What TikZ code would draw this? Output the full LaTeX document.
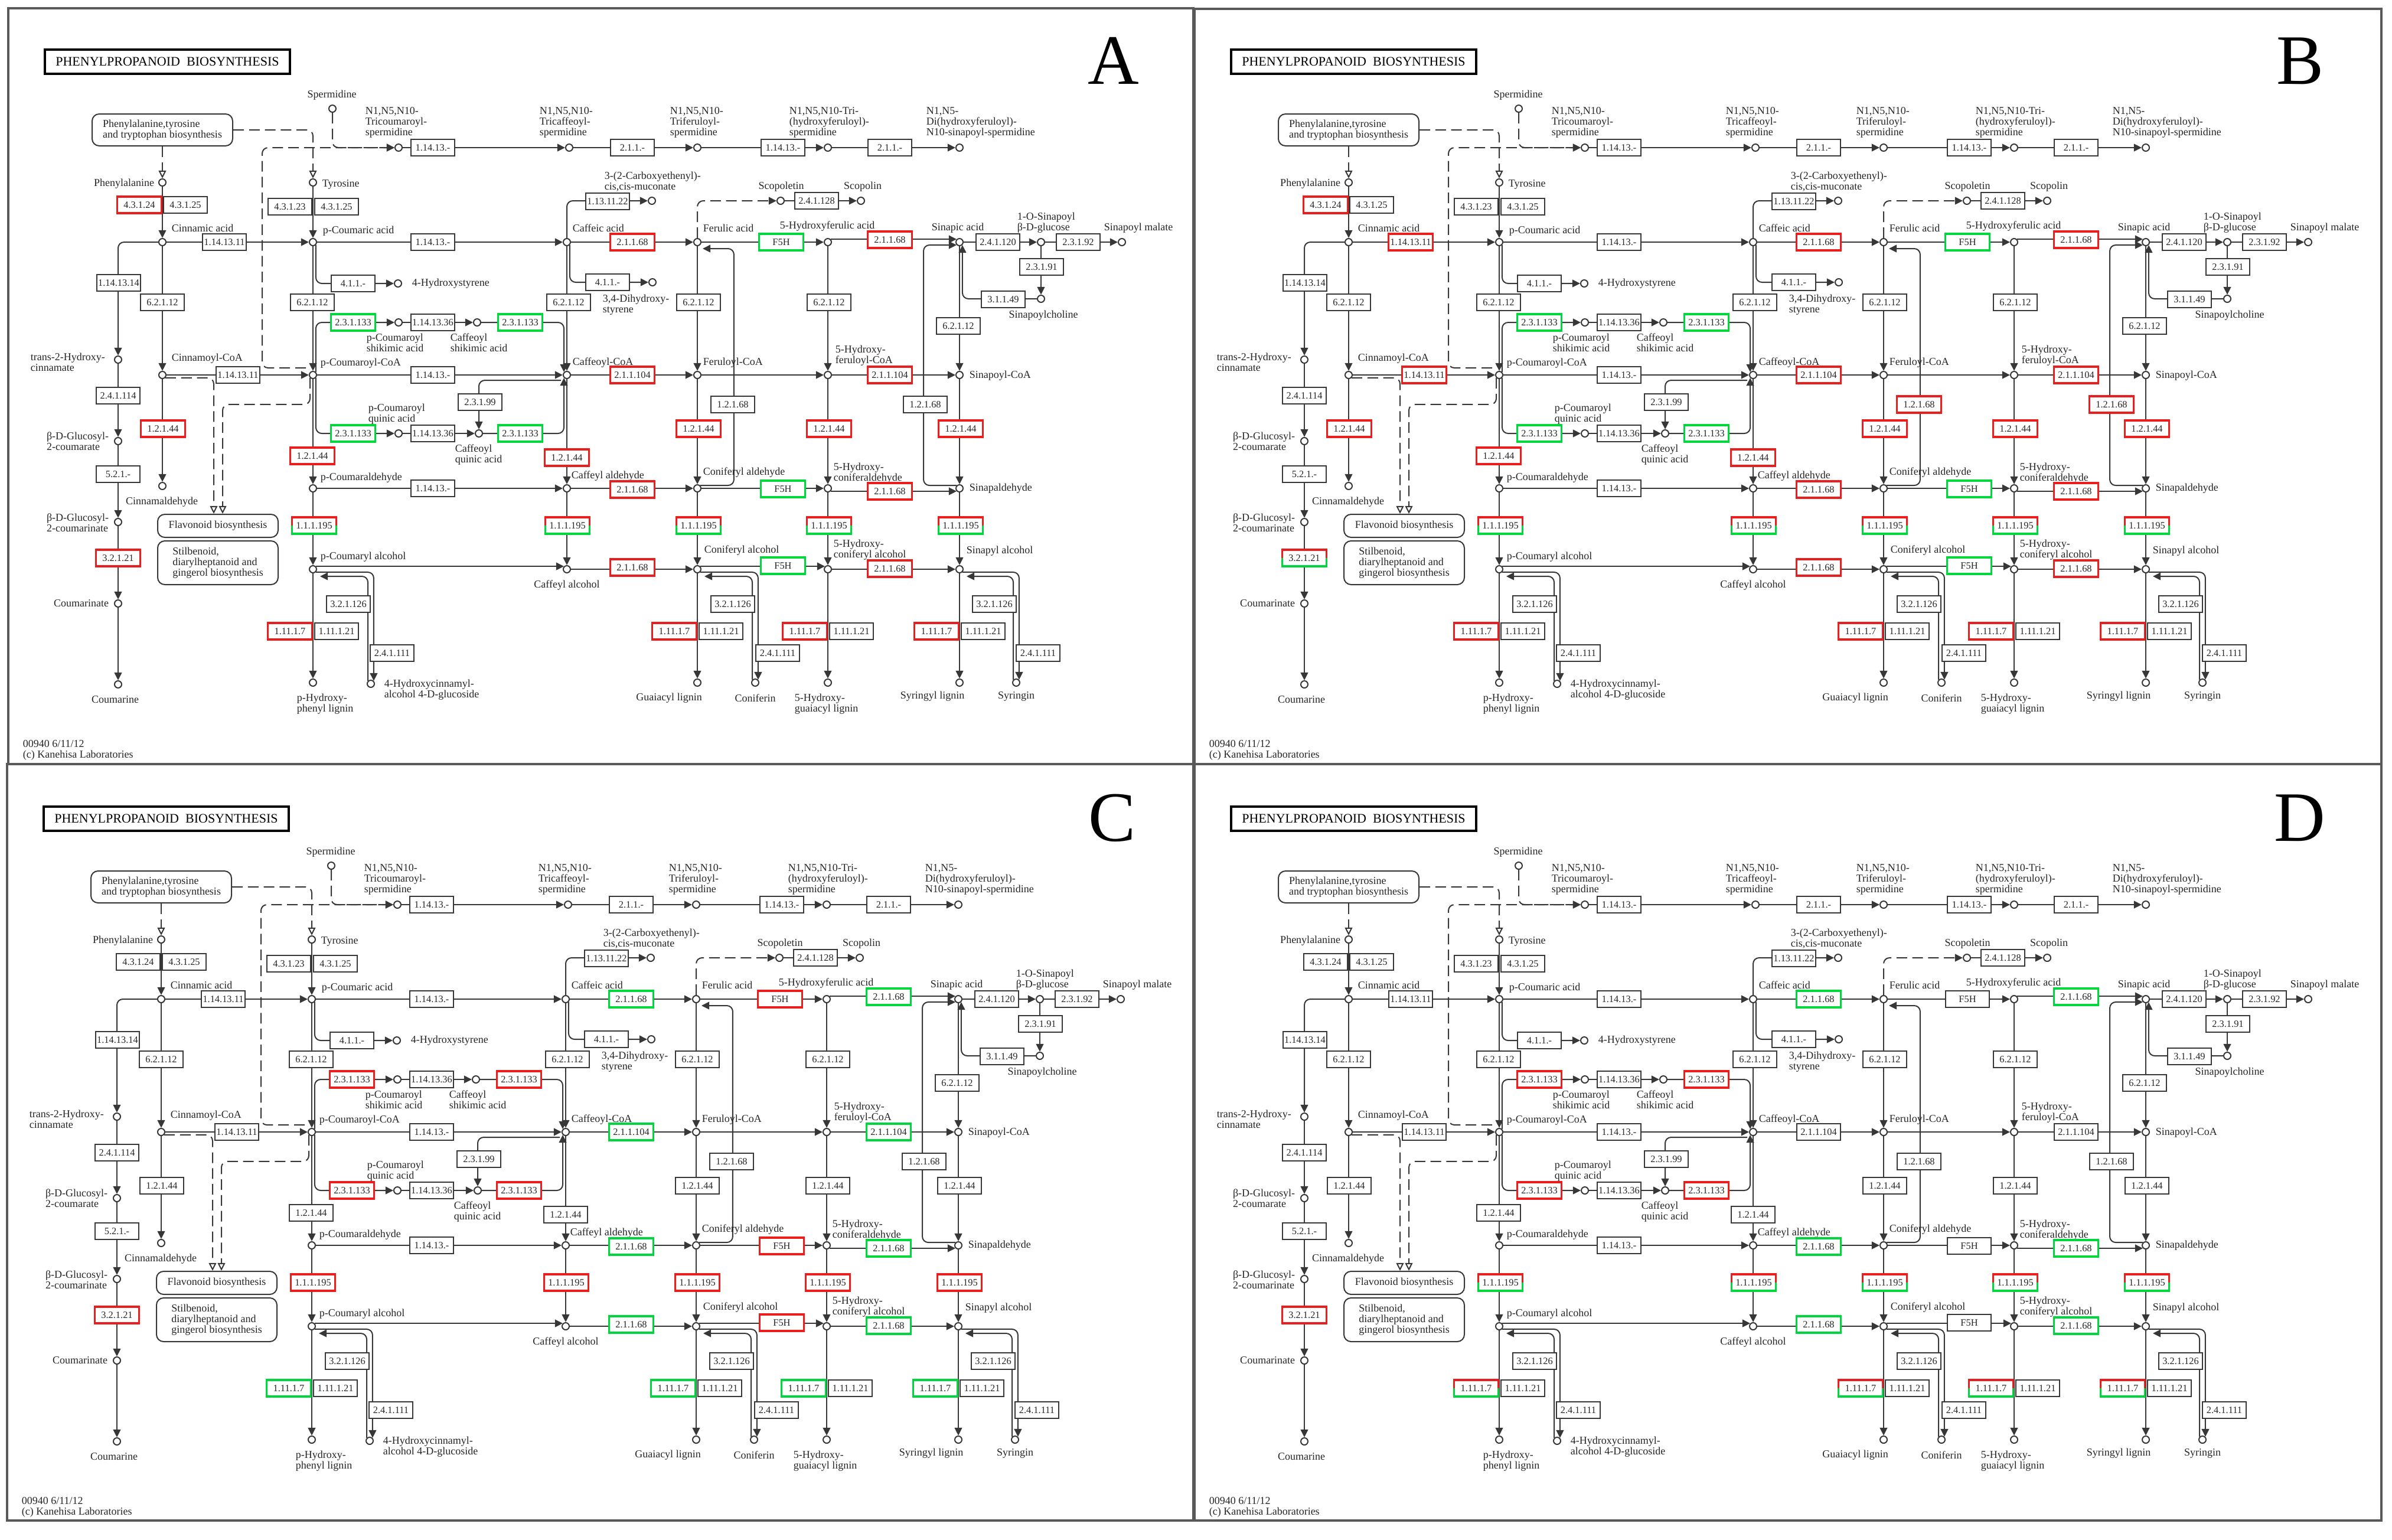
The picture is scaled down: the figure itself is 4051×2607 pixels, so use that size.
\documentclass[tikz,border=0pt]{standalone}
\usepackage{fontspec}
\setmainfont{Liberation Serif}
\usetikzlibrary{arrows.meta,calc}
\pgfdeclarelayer{back}\pgfdeclarelayer{edges}
\pgfsetlayers{back,edges,main}
\definecolor{kred}{RGB}{235,30,30}
\definecolor{kgreen}{RGB}{0,215,60}
\definecolor{kline}{RGB}{55,55,55}
\newcommand\labfont{\fontsize{4.5}{4.5}\selectfont}
\newcommand\enzfont{\fontsize{4.1}{4.1}\selectfont}
\tikzset{
  met/.style={circle,draw=kline,line width=0.5pt,fill=white,minimum size=3pt,inner sep=0pt},
  enz/.style={rectangle,minimum width=18.25pt,minimum height=6.6pt,inner sep=0pt,fill=white,font=\enzfont,text=black!85},
  lab/.style={inner sep=0pt,font=\labfont,align=left,text=black!85},
  ln/.style={draw=kline,line width=0.5pt},
  arr/.style={ln,-{Triangle[length=3.3pt,width=3.2pt]}},
  oarr/.style={ln,-{Triangle[open,fill=white,length=3.3pt,width=3.2pt]}},
  dsh/.style={dash pattern=on 4.5pt off 2.2pt},
  rc/.style={rounded corners=2.5pt},
  bxk/.style={draw=kline,line width=0.5pt},
  bxc/.style={line width=0.8pt},
  mapbox/.style={draw=kline,line width=0.5pt,rounded corners=3pt,fill=white,font=\labfont,align=left,inner sep=0pt,text=black!85},
  frame/.style={draw=black!65,line width=0.9pt},
}
\newcommand\bdK[1]{\draw[bxk] (#1.south west) rectangle (#1.north east);}
\newcommand\bdR[1]{\draw[bxc,draw=kred] (#1.south west) rectangle (#1.north east);}
\newcommand\bdG[1]{\draw[bxc,draw=kgreen] (#1.south west) rectangle (#1.north east);}
\newcommand\bdRG[1]{\draw[bxc,draw=kred] (#1.west) |- (#1.north east) -- (#1.east);
  \draw[bxc,draw=kgreen] (#1.west) |- (#1.south east) -- (#1.east);}
\newcommand\enzb[5]{\node[enz] (#1) at (#2,#3) {#4};\csname bd\csname c#5\endcsname\endcsname{#1}}
\def\cN{K}
\newcommand\setc[9]{\def\cPAL{#1}\def\cCFH{#2}\def\cBGL{#3}\def\cCCR{#4}\def\cHCT{#5}\def\cCAD{#6}\def\cPRX{#7}\def\cCOMT{#8}\def\cCCM{#9}\setcd}
\newcommand\setcd[2]{\def\cFFH{#1}\def\cALD{#2}}

\newcommand\panelbody[1]{%
% title, letter, footer
\node[draw=black,line width=1.1pt,inner sep=0pt,minimum width=103.75pt,minimum height=10.25pt,font=\fontsize{5.5}{5.5}\selectfont] (title) at (283.5,104.5) {PHENYLPROPANOID\hspace{2.8pt}BIOSYNTHESIS};
\node[font=\fontsize{30}{30}\selectfont,inner sep=0pt] (letter) at (1886,103) {#1};
\node[lab,anchor=west] (foot) at (38,1270) {00940 6/11/12\\(c) Kanehisa Laboratories};
% map boxes
\node[mapbox,minimum width=59.5pt,minimum height=13.5pt] (phtrp) at (275,220) {Phenylalanine,tyrosine\\and tryptophan biosynthesis};
\node[mapbox,minimum width=51pt,minimum height=9.75pt] (flav) at (369,890.5) {Flavonoid biosynthesis};
\node[mapbox,minimum width=51pt,minimum height=18.5pt] (stilb) at (369,953) {Stilbenoid,\\diarylheptanoid and\\gingerol biosynthesis};
% metabolites
\foreach \n/\x/\y in {spd/563/184,phe/275/309,tyr/530/309,cin/275/410,pcou/530/410,t2h/200/609,cinCoA/275/635,pcouCoA/530/635,glc1/200/747,glc2/200/884,cmt/200/1022,cmr/200/1159,cinald/275/823,hst/674/480,psh/675/546,csh/808/546,pqu/675/734,cqu/811/734,pald/530/827,palc/530/964,hgl/628/1158,plig/530/1156,tcs/675/250,tcf/964/250,tfs/1181/250,ths/1402/250,dhs/1625/250,caf/960/410,muc/1104/340,dhst/1105/478,cafCoA/960/635,cafald/960/827,cafalc/960/964,fer/1181/410,scp/1322/340,scl/1458/340,ferCoA/1181/635,conald/1181/827,conalc/1181/964,glig/1181/1156,cnf/1279/1156,hfer/1402/410,hferCoA/1402/635,hconald/1402/827,hconalc/1402/964,hglig/1402/1156,sin/1625/410,sglc/1763/410,smal/1900/410,schol/1763/506,sinCoA/1625/635,sinald/1625/827,sinalc/1625/964,slig/1625/1156,syr/1721/1156}
  {\node[met] (\n) at (\x,\y) {};}
% labels
\node[lab] (l-spd) at (562,161) {Spermidine};
\node[lab,anchor=east] (l-phe) at (262,311) {Phenylalanine};
\node[lab,anchor=west] (l-tyr) at (545,312) {Tyrosine};
\node[lab,anchor=west] (l-cin) at (290,386) {Cinnamic acid};
\node[lab,anchor=west] (l-pcou) at (546,391) {p-Coumaric acid};
\node[lab,anchor=west] (l-t2h) at (51,613) {trans-2-Hydroxy-\\cinnamate};
\node[lab,anchor=west] (l-cinCoA) at (290,607) {Cinnamoyl-CoA};
\node[lab,anchor=west] (l-pcouCoA) at (542,615) {p-Coumaroyl-CoA};
\node[lab,anchor=east] (l-glc1) at (185,747) {β-D-Glucosyl-\\2-coumarate};
\node[lab,anchor=east] (l-glc2) at (185,885) {β-D-Glucosyl-\\2-coumarinate};
\node[lab,anchor=east] (l-cmt) at (185,1022) {Coumarinate};
\node[lab] (l-cmr) at (195,1185) {Coumarine};
\node[lab] (l-cinald) at (274,850) {Cinnamaldehyde};
\node[lab,anchor=west] (l-hst) at (697,480) {4-Hydroxystyrene};
\node[lab,anchor=west] (l-psh) at (620,580) {p-Coumaroyl\\shikimic acid};
\node[lab,anchor=west] (l-csh) at (762,580) {Caffeoyl\\shikimic acid};
\node[lab,anchor=west] (l-pqu) at (623,701) {p-Coumaroyl\\quinic acid};
\node[lab,anchor=west] (l-cqu) at (770,770) {Caffeoyl\\quinic acid};
\node[lab,anchor=west] (l-pald) at (542,809) {p-Coumaraldehyde};
\node[lab,anchor=west] (l-palc) at (542,943) {p-Coumaryl alcohol};
\node[lab,anchor=west] (l-hgl) at (650,1168) {4-Hydroxycinnamyl-\\alcohol 4-D-glucoside};
\node[lab,anchor=west] (l-plig) at (502,1192) {p-Hydroxy-\\phenyl lignin};
\node[lab,anchor=west] (l-tcs) at (618,207) {N1,N5,N10-\\Tricoumaroyl-\\spermidine};
\node[lab,anchor=west] (l-tcf) at (913,207) {N1,N5,N10-\\Tricaffeoyl-\\spermidine};
\node[lab,anchor=west] (l-tfs) at (1134,207) {N1,N5,N10-\\Triferuloyl-\\spermidine};
\node[lab,anchor=west] (l-ths) at (1336,207) {N1,N5,N10-Tri-\\(hydroxyferuloyl)-\\spermidine};
\node[lab,anchor=west] (l-dhs) at (1568,207) {N1,N5-\\Di(hydroxyferuloyl)-\\N10-sinapoyl-spermidine};
\node[lab,anchor=west] (l-caf) at (969,386) {Caffeic acid};
\node[lab,anchor=west] (l-muc) at (1023,308) {3-(2-Carboxyethenyl)-\\cis,cis-muconate};
\node[lab,anchor=west] (l-dhst) at (1020,516) {3,4-Dihydroxy-\\styrene};
\node[lab,anchor=west] (l-cafCoA) at (969,614) {Caffeoyl-CoA};
\node[lab,anchor=west] (l-cafald) at (967,806) {Caffeyl aldehyde};
\node[lab] (l-cafalc) at (960,991) {Caffeyl alcohol};
\node[lab,anchor=west] (l-fer) at (1190,386) {Ferulic acid};
\node[lab] (l-scp) at (1323,316) {Scopoletin};
\node[lab] (l-scl) at (1461,316) {Scopolin};
\node[lab,anchor=west] (l-ferCoA) at (1190,614) {Feruloyl-CoA};
\node[lab,anchor=west] (l-conald) at (1190,800) {Coniferyl aldehyde};
\node[lab,anchor=west] (l-conalc) at (1192,932) {Coniferyl alcohol};
\node[lab] (l-glig) at (1133,1182) {Guaiacyl lignin};
\node[lab] (l-cnf) at (1279,1182) {Coniferin};
\node[lab,anchor=west] (l-hfer) at (1320,383) {5-Hydroxyferulic acid};
\node[lab,anchor=west] (l-hferCoA) at (1414,602) {5-Hydroxy-\\feruloyl-CoA};
\node[lab,anchor=west] (l-hconald) at (1411,801) {5-Hydroxy-\\coniferaldehyde};
\node[lab,anchor=west] (l-hconalc) at (1411,931) {5-Hydroxy-\\coniferyl alcohol};
\node[lab,anchor=west] (l-hglig) at (1345,1192) {5-Hydroxy-\\guaiacyl lignin};
\node[lab,anchor=west] (l-sin) at (1577,386) {Sinapic acid};
\node[lab,anchor=west] (l-sglc) at (1722,377) {1-O-Sinapoyl\\β-D-glucose};
\node[lab,anchor=west] (l-smal) at (1869,386) {Sinapoyl malate};
\node[lab] (l-schol) at (1767,534) {Sinapoylcholine};
\node[lab,anchor=west] (l-sinCoA) at (1641,636) {Sinapoyl-CoA};
\node[lab,anchor=west] (l-sinald) at (1641,827) {Sinapaldehyde};
\node[lab,anchor=west] (l-sinalc) at (1636,933) {Sinapyl alcohol};
\node[lab] (l-slig) at (1579,1179) {Syringyl lignin};
\node[lab] (l-syr) at (1721,1179) {Syringin};
% enzymes
\enzb{e01}{236}{347}{4.3.1.24}{PAL}
\enzb{e02}{314}{347}{4.3.1.25}{N}
\enzb{e03}{491}{350}{4.3.1.23}{N}
\enzb{e04}{570}{350}{4.3.1.25}{N}
\enzb{e05}{380}{410}{1.14.13.11}{CFH}
\enzb{e06}{201}{479}{1.14.13.14}{N}
\enzb{e07}{275}{512}{6.2.1.12}{N}
\enzb{e08}{403}{635}{1.14.13.11}{CFH}
\enzb{e09}{200}{670}{2.4.1.114}{N}
\enzb{e10}{200}{803}{5.2.1.-}{N}
\enzb{e11}{200}{945}{3.2.1.21}{BGL}
\enzb{e12}{276}{726}{1.2.1.44}{CCR}
\enzb{e13}{733}{410}{1.14.13.-}{N}
\enzb{e14}{598}{480}{4.1.1.-}{N}
\enzb{e15}{529}{512}{6.2.1.12}{N}
\enzb{e16}{598}{546}{2.3.1.133}{HCT}
\enzb{e17}{733}{546}{1.14.13.36}{N}
\enzb{e18}{881}{546}{2.3.1.133}{HCT}
\enzb{e19}{733}{635}{1.14.13.-}{N}
\enzb{e20}{598}{734}{2.3.1.133}{HCT}
\enzb{e21}{733}{734}{1.14.13.36}{N}
\enzb{e22}{881}{734}{2.3.1.133}{HCT}
\enzb{e23}{813}{681}{2.3.1.99}{N}
\enzb{e24}{529}{772}{1.2.1.44}{CCR}
\enzb{e25}{733}{827}{1.14.13.-}{N}
\enzb{e26}{532}{890}{1.1.1.195}{CAD}
\enzb{e27}{590}{1023}{3.2.1.126}{N}
\enzb{e28}{491}{1069}{1.11.1.7}{PRX}
\enzb{e29}{570}{1069}{1.11.1.21}{N}
\enzb{e30}{664}{1106}{2.4.1.111}{N}
\enzb{e31}{733}{250}{1.14.13.-}{N}
\enzb{e32}{1071}{250}{2.1.1.-}{N}
\enzb{e33}{1326}{250}{1.14.13.-}{N}
\enzb{e34}{1507}{250}{2.1.1.-}{N}
\enzb{e35}{1029}{341}{1.13.11.22}{N}
\enzb{e36}{1029}{478}{4.1.1.-}{N}
\enzb{e37}{1071}{410}{2.1.1.68}{COMT}
\enzb{e38}{963}{512}{6.2.1.12}{N}
\enzb{e39}{1071}{635}{2.1.1.104}{CCM}
\enzb{e40}{960}{775}{1.2.1.44}{CCR}
\enzb{e41}{1071}{829}{2.1.1.68}{COMT}
\enzb{e42}{961}{890}{1.1.1.195}{CAD}
\enzb{e43}{1071}{961}{2.1.1.68}{COMT}
\enzb{e44}{1323}{410}{F5H}{FFH}
\enzb{e45}{1383}{340}{2.4.1.128}{N}
\enzb{e46}{1507}{406}{2.1.1.68}{COMT}
\enzb{e47}{1183}{512}{6.2.1.12}{N}
\enzb{e48}{1404}{512}{6.2.1.12}{N}
\enzb{e49}{1507}{635}{2.1.1.104}{CCM}
\enzb{e50}{1241}{685}{1.2.1.68}{ALD}
\enzb{e51}{1183}{726}{1.2.1.44}{CCR}
\enzb{e52}{1326}{828}{F5H}{FFH}
\enzb{e53}{1404}{726}{1.2.1.44}{CCR}
\enzb{e54}{1507}{832}{2.1.1.68}{COMT}
\enzb{e55}{1183}{890}{1.1.1.195}{CAD}
\enzb{e56}{1404}{890}{1.1.1.195}{CAD}
\enzb{e57}{1326}{958}{F5H}{FFH}
\enzb{e58}{1507}{963}{2.1.1.68}{COMT}
\enzb{e59}{1241}{1023}{3.2.1.126}{N}
\enzb{e60}{1142}{1069}{1.11.1.7}{PRX}
\enzb{e61}{1221}{1069}{1.11.1.21}{N}
\enzb{e62}{1317}{1106}{2.4.1.111}{N}
\enzb{e63}{1363}{1069}{1.11.1.7}{PRX}
\enzb{e64}{1442}{1069}{1.11.1.21}{N}
\enzb{e65}{1690}{410}{2.4.1.120}{N}
\enzb{e66}{1826}{410}{2.3.1.92}{N}
\enzb{e67}{1764}{452}{2.3.1.91}{N}
\enzb{e68}{1699}{507}{3.1.1.49}{N}
\enzb{e69}{1623}{552}{6.2.1.12}{N}
\enzb{e70}{1567}{685}{1.2.1.68}{ALD}
\enzb{e71}{1627}{726}{1.2.1.44}{CCR}
\enzb{e72}{1627}{890}{1.1.1.195}{CAD}
\enzb{e73}{1684}{1023}{3.2.1.126}{N}
\enzb{e74}{1586}{1069}{1.11.1.7}{PRX}
\enzb{e75}{1665}{1069}{1.11.1.21}{N}
\enzb{e76}{1758}{1106}{2.4.1.111}{N}
% connectors
\begin{pgfonlayer}{edges}
\draw[ln,dsh,oarr] (phtrp) -- (phe);
\draw[ln,dsh,oarr,rc] (phtrp.east) -| (tyr);
\draw[ln,dsh,arr,rc] (spd) |- (tcs);
\draw[ln,dsh,arr,rc] ($(pcouCoA)+(-12,-12)$) -- ++(-74,0) |- (tcs);
\draw[arr] (tcs) -- (tcf);
\draw[arr] (tcf) -- (tfs);
\draw[arr] (tfs) -- (ths);
\draw[arr] (ths) -- (dhs);
\draw[arr] (phe) -- (cin);
\draw[arr] (tyr) -- (pcou);
\draw[arr] (cin) -- (pcou);
\draw[arr,rc] (cin) -| (t2h);
\draw[arr] (cin) -- (cinCoA);
\draw[arr] (cinCoA) -- (pcouCoA);
\draw[arr] (t2h) -- (glc1);
\draw[arr] (glc1) -- (glc2);
\draw[arr] (glc2) -- (cmt);
\draw[arr] (cmt) -- (cmr);
\draw[arr] (cinCoA) -- (cinald);
\draw[ln,dsh,oarr,rc] (cinCoA.south east) -| ($(flav.north)+(-7,0)$);
\draw[ln,dsh,oarr,rc] (pcouCoA.south west) -- ++(0,45) -| ($(flav.north)+(8,0)$);
\draw[arr] (pcou) -- (caf);
\draw[arr,rc] (pcou.south east) |- (hst);
\draw[arr] (pcou) -- (pcouCoA);
\draw[arr,rc] (pcouCoA.north east) |- (psh);
\draw[arr] (psh) -- (csh);
\draw[arr,rc] (csh) -| (cafCoA.north west);
\draw[arr] (pcouCoA) -- (cafCoA);
\draw[arr,rc] (pcouCoA.south east) |- (pqu);
\draw[arr] (pqu) -- (cqu);
\draw[arr,rc] ($(cafCoA)+(-10,9)$) -| (cqu);
\draw[arr,rc] (cqu) -| (cafCoA.south west);
\draw[arr] (pcouCoA) -- (pald);
\draw[arr] (pald) -- (palc);
\draw[arr] (palc) -- (plig);
\draw[arr] (pald) -- (cafald);
\draw[arr] (palc.north east) -- (cafalc.north west);
\draw[arr,rc] (palc.south east) -| (hgl.north east);
\draw[arr,rc] (hgl.north west) |- ($(palc)+(12,12)$);
\draw[arr] (caf) -- (fer);
\draw[arr,rc] (caf) |- (muc);
\draw[arr,rc] (caf.south east) |- (dhst);
\draw[arr] (caf) -- (cafCoA);
\draw[arr] (cafCoA) -- (ferCoA);
\draw[arr] (cafCoA) -- (cafald);
\draw[arr] (cafald) -- (cafalc);
\draw[arr] (cafald) -- (conald);
\draw[arr] (cafalc) -- (conalc);
\draw[ln,dsh,arr,rc] (fer) |- (scp);
\draw[arr] (scp) -- (scl);
\draw[arr] (fer) -- (hfer);
\draw[arr] (fer) -- (ferCoA);
\draw[arr] (ferCoA) -- (hferCoA);
\draw[arr] (ferCoA) -- (conald);
\draw[arr,rc] (conald.north east) -- ++(57,0) |- ($(fer)+(9,11)$);
\draw[arr] (conald) -- (hconald);
\draw[arr] (conald) -- (conalc);
\draw[arr] (conalc) -- (glig);
\draw[arr] (conalc.north east) -- (hconalc.north west);
\draw[arr,rc] (conalc.south east) -| (cnf.north east);
\draw[arr,rc] (cnf.north west) |- ($(conalc)+(12,12)$);
\draw[arr] (hfer.north east) -- (sin.north west);
\draw[arr] (hfer) -- (hferCoA);
\draw[arr] (hferCoA) -- (sinCoA);
\draw[arr] (hferCoA) -- (hconald);
\draw[arr] (hconald.south east) -- (sinald.south west);
\draw[arr] (hconald) -- (hconalc);
\draw[arr] (hconalc) -- (sinalc);
\draw[arr] (hconalc) -- (hglig);
\draw[arr] (sin) -- (sglc);
\draw[arr] (sglc) -- (smal);
\draw[arr] (sglc) -- (schol);
\draw[arr,rc] (schol) -| (sin.south east);
\draw[arr] (sin) -- (sinCoA);
\draw[arr] (sinCoA) -- (sinald);
\draw[arr,rc] (sinald.north west) -- ++(-56,0) |- (sin.south west);
\draw[arr] (sinald) -- (sinalc);
\draw[arr] (sinalc) -- (slig);
\draw[arr,rc] (sinalc.south east) -| (syr.north east);
\draw[arr,rc] (syr.north west) |- ($(sinalc)+(12,12)$);
\end{pgfonlayer}
}

\begin{document}
\begin{tikzpicture}[x=0.25pt,y=-0.25pt]
\useasboundingbox (0,0) rectangle (4051,2607);
\begin{pgfonlayer}{back}
\fill[white] (0,0) rectangle (4051,2607);
\draw[frame] (14,14) rectangle (2021,1294);
\draw[frame] (2023,15) rectangle (4033,1294);
\draw[frame] (12,1294) rectangle (2021,2575);
\draw[frame] (2023,1294) rectangle (4033,2575);
\end{pgfonlayer}
\begin{scope}[name prefix=A-]
\setc{R}{K}{R}{R}{G}{RG}{R}{R}{R}{G}{K}
\panelbody{A}
\end{scope}
\begin{scope}[shift={(2009,0)},name prefix=B-]
\setc{R}{R}{RG}{R}{G}{RG}{R}{R}{R}{G}{R}
\panelbody{B}
\end{scope}
\begin{scope}[shift={(-2,1282)},name prefix=C-]
\setc{K}{K}{R}{K}{R}{R}{G}{G}{G}{R}{K}
\panelbody{C}
\end{scope}
\begin{scope}[shift={(2009,1282)},name prefix=D-]
\setc{K}{K}{R}{K}{R}{RG}{RG}{G}{K}{K}{K}
\panelbody{D}
\end{scope}
\end{tikzpicture}
\end{document}
